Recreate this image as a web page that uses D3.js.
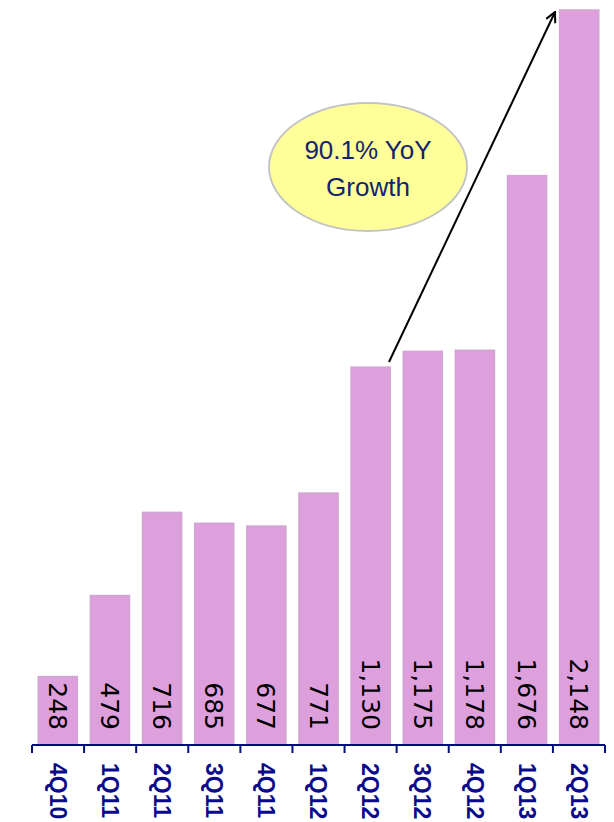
<!DOCTYPE html>
<html><head><meta charset="utf-8">
<script src="https://cdn.jsdelivr.net/npm/d3@7"></script>
<style>body{margin:0;background:#fff}svg{display:block}</style>
</head><body>
<script>
const categories = ["4Q10","1Q11","2Q11","3Q11","4Q11","1Q12","2Q12","3Q12","4Q12","1Q13","2Q13"];
const values = [248,479,716,685,677,771,1130,1175,1178,1676,2148];
const valueLabels = ["248","479","716","685","677","771","1,130","1,175","1,178","1,676","2,148"];
const calloutLines = ["90.1% YoY","Growth"];

const W = 614, H = 822;
const svg = d3.select("body").append("svg").attr("width", W).attr("height", H);

const x = d3.scaleBand().domain(categories).range([32, 605]).paddingInner(0.25).paddingOuter(0.12);
const y = d3.scaleLinear().domain([53, 2148]).range([745, 10]);

// bars
svg.selectAll("rect.bar").data(values).join("rect")
  .attr("class","bar")
  .attr("x", (d,i) => x(categories[i]))
  .attr("width", x.bandwidth())
  .attr("y", d => y(d))
  .attr("height", d => 745 - y(d))
  .attr("fill", "#dda0dd")
  .attr("stroke", "#cfa6d2")
  .attr("stroke-width", 1.5);

// value labels
svg.selectAll("text.val").data(valueLabels).join("text")
  .attr("class","val")
  .attr("transform", (d,i) => `translate(${x(categories[i]) + x.bandwidth()/2},730) rotate(90)`)
  .attr("text-anchor","end")
  .attr("dy","0.36em")
  .attr("font-family","DejaVu Sans, sans-serif")
  .attr("font-size", 25)
  .attr("fill","#000")
  .text(d => d);

// axis
const step = x.step();
const ax = svg.append("g").attr("stroke","#00107a").attr("stroke-width",2);
ax.append("line").attr("x1",32).attr("x2",605).attr("y1",745).attr("y2",745);
const edges = d3.range(categories.length + 1).map(i => x.range()[0] + i * (x.range()[1]-x.range()[0]) / categories.length);
ax.selectAll("line.tick").data(edges).join("line")
  .attr("class","tick")
  .attr("x1", d => d).attr("x2", d => d)
  .attr("y1", 745).attr("y2", 753);

// category labels
svg.selectAll("text.cat").data(categories).join("text")
  .attr("class","cat")
  .attr("transform", d => `translate(${x(d) + x.bandwidth()/2},763) rotate(90)`)
  .attr("text-anchor","start")
  .attr("dy","0.36em")
  .attr("font-family","Liberation Sans, Arial, sans-serif")
  .attr("font-weight","bold")
  .attr("font-size", 23)
  .attr("fill","#0a0a8a")
  .text(d => d);

// arrow
const defs = svg.append("defs");
defs.append("marker").attr("id","arr").attr("viewBox","0 0 12 12").attr("refX",11).attr("refY",6)
  .attr("markerWidth",12).attr("markerHeight",12).attr("markerUnits","userSpaceOnUse").attr("orient","auto")
  .append("path").attr("d","M1,1 L11,6 L1,11").attr("fill","none").attr("stroke","#000").attr("stroke-width",2);
svg.append("line").attr("x1",389).attr("y1",362).attr("x2",555).attr("y2",12)
  .attr("stroke","#000").attr("stroke-width",2).attr("marker-end","url(#arr)");

// callout
svg.append("ellipse").attr("cx",368).attr("cy",167).attr("rx",99).attr("ry",64)
  .attr("fill","#ffff99").attr("stroke","#c4c4c4").attr("stroke-width",2);
svg.selectAll("text.call").data(calloutLines).join("text")
  .attr("class","call")
  .attr("x",368).attr("y",(d,i) => 159 + i*37)
  .attr("text-anchor","middle")
  .attr("font-family","Liberation Sans, Arial, sans-serif")
  .attr("font-size",26)
  .attr("fill","#13246e")
  .text(d => d);
</script>
</body></html>
